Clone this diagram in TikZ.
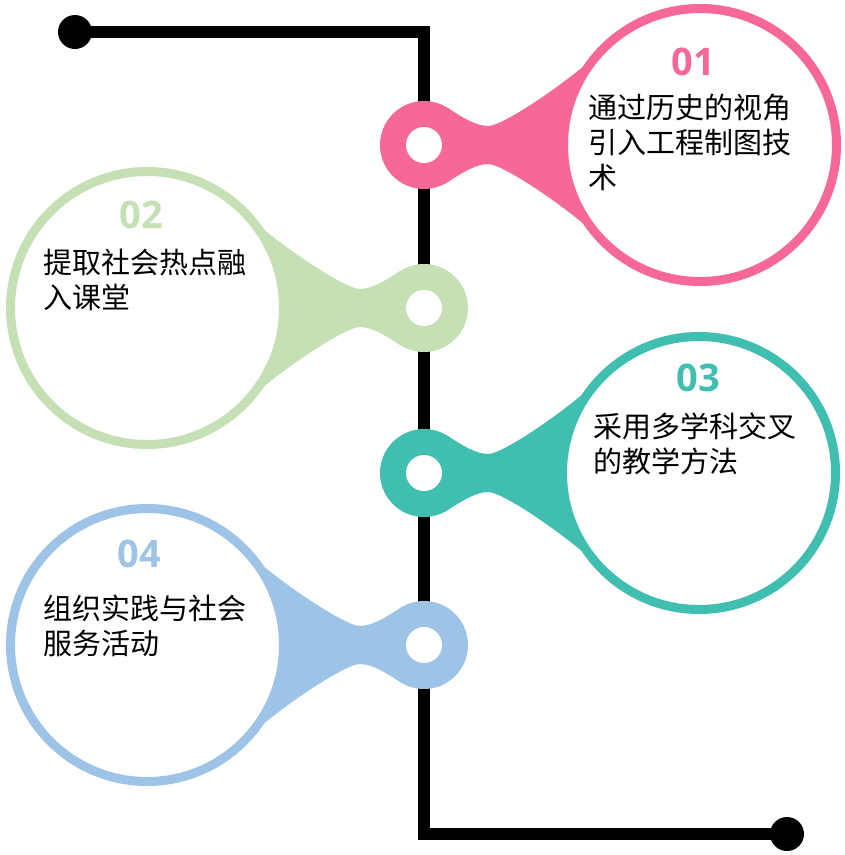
\documentclass[tikz,border=0pt]{standalone}
\usepackage{fontspec}
\usetikzlibrary{backgrounds}
\newfontfamily\cjk{Noto Sans CJK SC}
\newfontfamily\numfont{Open Sans}
\definecolor{pk}{RGB}{246,104,152}
\definecolor{gr}{RGB}{197,224,180}
\definecolor{tl}{RGB}{64,191,176}
\definecolor{bl}{RGB}{157,195,230}
\tikzset{
  blackdot/.style={circle,fill=black,minimum size=34pt,inner sep=0pt},
  ringfill/.style={circle,fill=#1,minimum size=88pt,inner sep=0pt,outer sep=0pt},
  ringhole/.style={circle,fill=white,minimum size=36pt,inner sep=0pt},
  bubble/.style={circle,draw=#1,line width=9pt,fill=white,minimum size=273pt,inner sep=0pt,outer sep=0pt},
  numlabel/.style={text=#1,font=\numfont\bfseries\fontsize{38}{40}\selectfont,inner sep=0pt},
  itemtext/.style={font=\cjk\fontsize{29}{35}\selectfont,align=left,anchor=base west,inner sep=0pt}
}
\begin{document}
\begin{tikzpicture}[x=1pt,y=-1pt]
  \useasboundingbox (0,0) rectangle (845,855);
  \node[blackdot] (d1) at (75,32) {};
  \node[blackdot] (d2) at (787,834) {};
  \coordinate (k1) at (424,32);
  \coordinate (k2) at (424,834);
  \draw[line width=12pt] (d1.center) -- (k1) -- (k2) -- (d2.center);

  \node[ringfill=pk] (r1) at (424,145) {};
  \node[ringhole] (h1) at (r1) {};
  \node[bubble=pk] (c1) at (700,145) {};
  \node[ringfill=gr] (r2) at (424,308) {};
  \node[ringhole] (h2) at (r2) {};
  \node[bubble=gr] (c2) at (147,308) {};
  \node[ringfill=tl] (r3) at (424,473) {};
  \node[ringhole] (h3) at (r3) {};
  \node[bubble=tl] (c3) at (699,473) {};
  \node[ringfill=bl] (r4) at (424,645) {};
  \node[ringhole] (h4) at (r4) {};
  \node[bubble=bl] (c4) at (147,645) {};

  \begin{scope}[on background layer]
    \fill[pk] (r1.60) .. controls (456,113) and (474,126) .. (488,126) .. controls (504,126) and (575,77) .. (c1.135)
      -- (c1.-135) .. controls (575,213) and (504,164) .. (488,164) .. controls (474,164) and (456,177) .. (r1.-60) -- cycle;
    \fill[gr] (r2.120) .. controls (392,276) and (374,289) .. (360,289) .. controls (344,289) and (272,240) .. (c2.45)
      -- (c2.-45) .. controls (272,376) and (344,327) .. (360,327) .. controls (374,327) and (392,340) .. (r2.-120) -- cycle;
    \fill[tl] (r3.60) .. controls (456,441) and (474,454) .. (488,454) .. controls (504,454) and (574,405) .. (c3.135)
      -- (c3.-135) .. controls (574,541) and (504,492) .. (488,492) .. controls (474,492) and (456,505) .. (r3.-60) -- cycle;
    \fill[bl] (r4.120) .. controls (392,613) and (374,626) .. (360,626) .. controls (344,626) and (272,577) .. (c4.45)
      -- (c4.-45) .. controls (272,713) and (344,664) .. (360,664) .. controls (374,664) and (392,677) .. (r4.-120) -- cycle;
  \end{scope}

  \node[numlabel=pk] (n1) at (693,62) {01};
  \node[itemtext] (t1) at (588,188) {通过历史的视角\\引入工程制图技\\术};
  \node[numlabel=gr] (n2) at (141,215) {02};
  \node[itemtext] (t2) at (43,308) {提取社会热点融\\入课堂};
  \node[numlabel=tl] (n3) at (698,378) {03};
  \node[itemtext] (t3) at (593,472) {采用多学科交叉\\的教学方法};
  \node[numlabel=bl] (n4) at (139,554) {04};
  \node[itemtext] (t4) at (43,654) {组织实践与社会\\服务活动};
\end{tikzpicture}
\end{document}
